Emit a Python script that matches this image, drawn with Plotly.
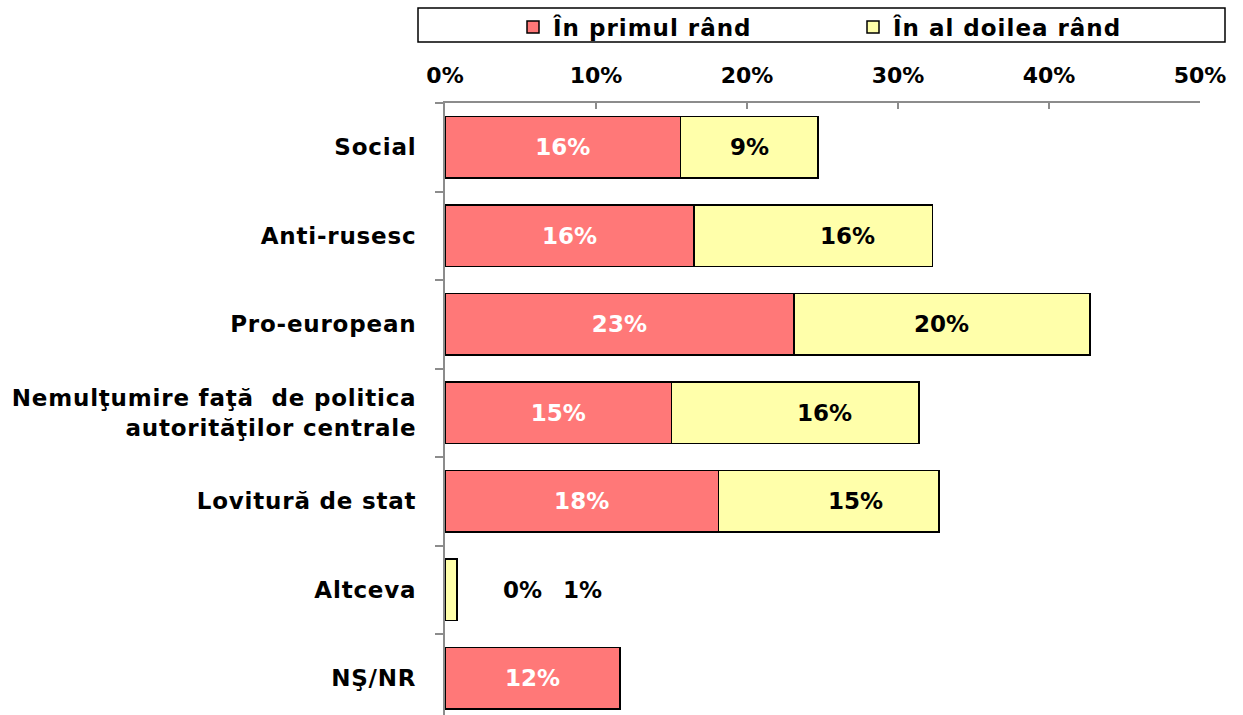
import plotly.graph_objects as go

categories = [
    "Social",
    "Anti-rusesc",
    "Pro-european",
    "Nemulţumire faţă  de politica<br>autorităţilor centrale",
    "Lovitură de stat",
    "Altceva",
    "NŞ/NR",
]
first_rank = [15.6, 16.5, 23.1, 15.0, 18.1, 0.0, 11.6]
second_rank = [9.1, 15.8, 19.6, 16.4, 14.6, 0.8, None]
x_ticks = [0, 10, 20, 30, 40, 50]
x_tick_labels = ["0%", "10%", "20%", "30%", "40%", "50%"]
series_names = ["În primul rând", "În al doilea rând"]

# horizontal nudge (px) of the second-rank labels inside their segments
second_label_shift = [0, 34, 0, 29, 27, 0, 0]

RED = "#FF7878"
YELLOW = "#FFFFAA"
FONT = "DejaVu Sans, Verdana, sans-serif"


def pct(v):
    return f"{v:.0f}%"


def spaced(s, px):
    return f'<span style="letter-spacing:{px}px">{s}</span>'


fig = go.Figure()
fig.add_trace(go.Bar(
    y=categories, x=first_rank, orientation="h", name=spaced(series_names[0], 1),
    marker=dict(color=RED, line=dict(color="black", width=1.5)),
    text=["" if c == "Altceva" else pct(v) for c, v in zip(categories, first_rank)],
    textposition="inside", insidetextanchor="middle",
    textfont=dict(family=FONT, size=23, color="white", weight="bold"),
))
fig.add_trace(go.Bar(
    y=categories, x=second_rank, orientation="h", name=spaced(series_names[1], 1),
    marker=dict(color=YELLOW, line=dict(color="black", width=1.5)),
))

# Second-rank values, centred on their segments (with a small nudge)
for c, a, b, dx in zip(categories, first_rank, second_rank, second_label_shift):
    if b is None or c == "Altceva":
        continue
    fig.add_annotation(
        x=a + b / 2, y=c, xref="x", yref="y", showarrow=False, xshift=dx,
        text=pct(b), font=dict(family=FONT, size=23, color="black", weight="bold"),
    )

# Values for the thin "Altceva" bar are written beside it
alt = categories.index("Altceva")
for xpos, v in ((5.1, first_rank[alt]), (9.1, second_rank[alt])):
    fig.add_annotation(
        x=xpos, y=categories[alt], xref="x", yref="y", showarrow=False,
        text=pct(v), font=dict(family=FONT, size=23, color="black", weight="bold"),
    )

# Frame around the legend
fig.add_shape(
    type="rect", xref="paper", yref="paper",
    x0=(418 - 445) / 755, x1=(1225 - 445) / 755,
    y0=1 + (103 - 42) / 612, y1=1 + (103 - 8) / 612,
    line=dict(color="black", width=1.5), fillcolor="white", layer="below",
)

fig.update_layout(
    width=1243, height=715,
    margin=dict(l=445, r=43, t=103, b=0, autoexpand=False),
    paper_bgcolor="white", plot_bgcolor="white",
    barmode="stack", bargap=0.31,
    showlegend=True,
    legend=dict(
        orientation="h", x=(513 - 445) / 755, xanchor="left",
        y=1 + (103 - 27) / 612, yanchor="middle",
        entrywidth=295, entrywidthmode="pixels",
        font=dict(family=FONT, size=23, color="black", weight="bold"),
        bgcolor="rgba(0,0,0,0)", itemwidth=30, traceorder="normal",
        tracegroupgap=0,
    ),
    xaxis=dict(
        side="top", range=[0, 50], tickvals=x_ticks, ticktext=x_tick_labels,
        showgrid=False, zeroline=False,
        showline=True, linecolor="#8C8C8C", linewidth=2,
        ticks="inside", ticklen=6, tickcolor="#8C8C8C", tickwidth=2,
        tickfont=dict(family=FONT, size=22, color="black", weight="bold"),
        ticklabelstandoff=9,
    ),
    yaxis=dict(
        range=[6.415, -0.5], type="category",
        tickvals=categories, ticktext=[spaced(c, 0.8) for c in categories],
        showgrid=False, zeroline=False,
        showline=True, linecolor="#8C8C8C", linewidth=2,
        ticks="outside", tickson="boundaries", ticklen=8,
        tickcolor="#8C8C8C", tickwidth=2,
        tickfont=dict(family=FONT, size=23, color="black", weight="bold"),
        ticklabelstandoff=22,
    ),
)

fig.write_html("out.html")
